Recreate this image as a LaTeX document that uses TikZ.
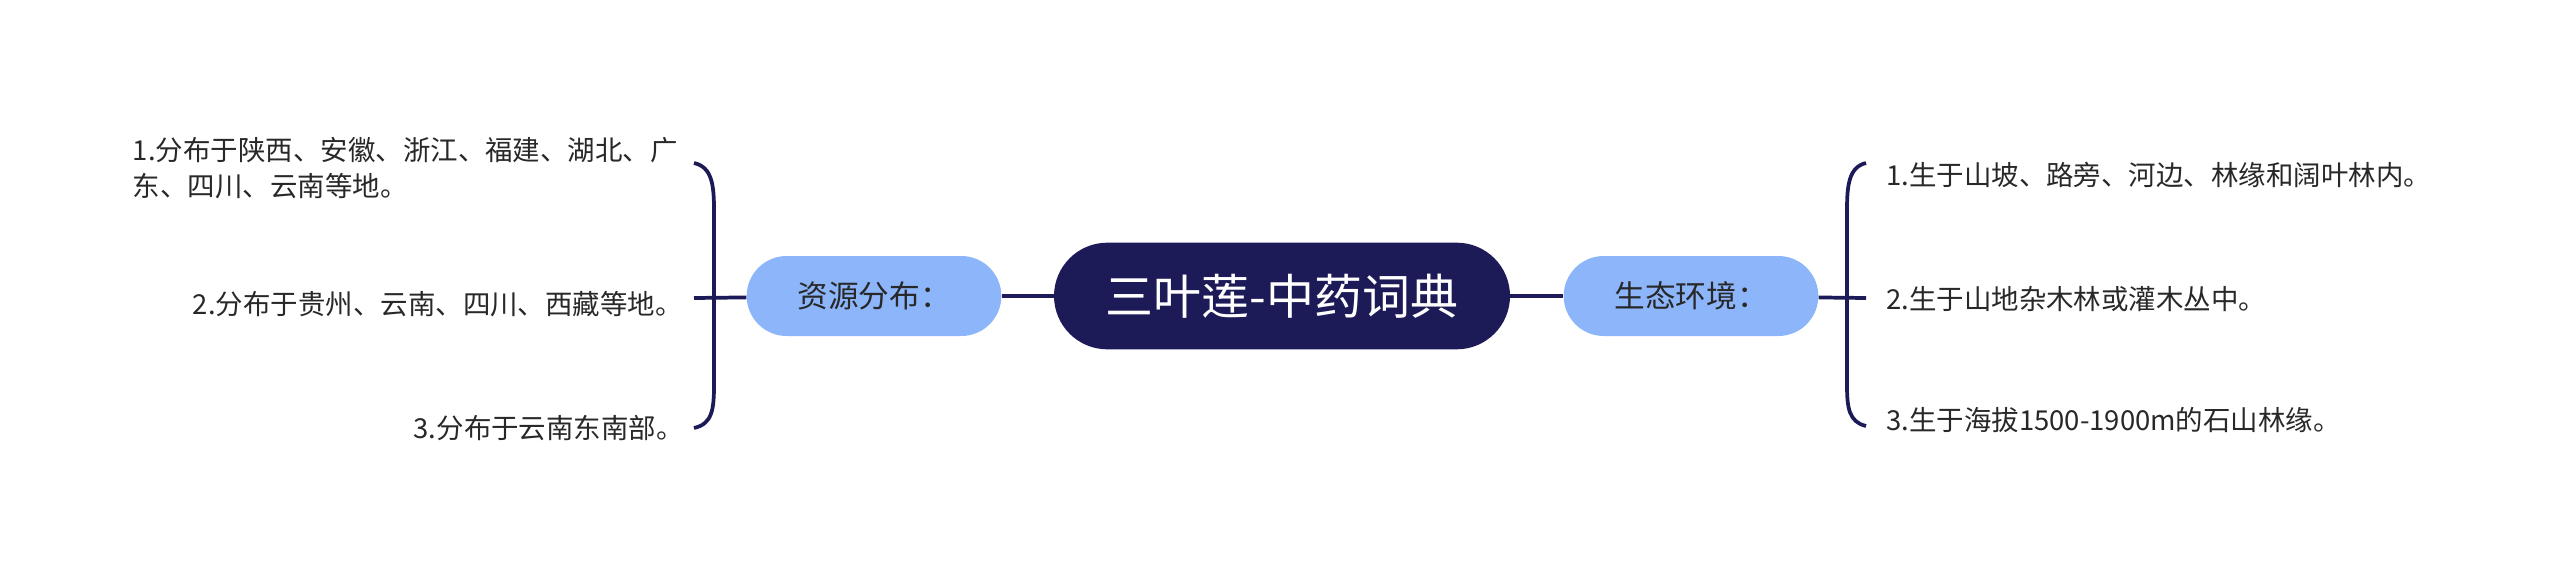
\documentclass[tikz,border=0pt]{standalone}
\usepackage{fontspec}
\setmainfont{Noto Sans CJK SC}
\usepackage{xcolor}
\usepackage{tikz}
\definecolor{navy}{RGB}{28,27,88}
\definecolor{skyblue}{RGB}{140,181,250}
\definecolor{txt}{RGB}{40,40,40}

\begin{document}
\begin{tikzpicture}[x=0.75pt,y=-0.75pt]
	\tikzstyle{every node}+=[inner sep=0pt]
	\tikzstyle{root}=[fill=navy, text=white, rounded corners=40pt, minimum width=342pt, minimum height=80pt, font=\fontsize{36}{42}\selectfont]
	\tikzstyle{topic}=[fill=skyblue, text=txt, rounded corners=30pt, minimum width=191pt, minimum height=60pt, font=\fontsize{23}{28}\selectfont]
	\tikzstyle{leaf}=[text=txt, font=\fontsize{20.6}{27}\selectfont]
	\tikzstyle{link}=[navy, line width=2.8pt]
	\useasboundingbox (0,0) rectangle (2560,575);
	\node [root] (herb) at (1282,296) {三叶莲-中药词典};
	\node [topic] (res) at (874,296) {资源分布：};
	\node [topic] (eco) at (1691,296) {生态环境：};
	\node [leaf, anchor=east, align=left] (res1) at (678,168) {1.分布于陕西、安徽、浙江、福建、湖北、广\\东、四川、云南等地。};
	\node [leaf, anchor=east] (res2) at (683,304) {2.分布于贵州、云南、四川、西藏等地。};
	\node [leaf, anchor=east] (res3) at (684,428) {3.分布于云南东南部。};
	\node [leaf, anchor=west] (eco1) at (1886,175) {1.生于山坡、路旁、河边、林缘和阔叶林内。};
	\node [leaf, anchor=west] (eco2) at (1886,299) {2.生于山地杂木林或灌木丛中。};
	\node [leaf, anchor=west] (eco3) at (1886,420) {3.生于海拔1500-1900m的石山林缘。};
	\coordinate (resTop) at (694,163);
	\coordinate (resMid) at (694,298);
	\coordinate (resBot) at (694,428);
	\coordinate (ecoTop) at (1866,163);
	\coordinate (ecoMid) at (1866,298);
	\coordinate (ecoBot) at (1866,426);
	\draw [link] (herb) -- (res);
	\draw [link] (herb) -- (eco);
	\draw [link] (res) -- (resMid);
	\draw [link] (eco) -- (ecoMid);
	\draw [link] (resTop) .. controls (712,167) and (714,185) .. (714,210) -- (714,385) .. controls (714,410) and (712,424) .. (resBot);
	\draw [link] (ecoTop) .. controls (1849,167) and (1847,185) .. (1847,210) -- (1847,385) .. controls (1847,408) and (1849,422) .. (ecoBot);
\end{tikzpicture}
\end{document}
